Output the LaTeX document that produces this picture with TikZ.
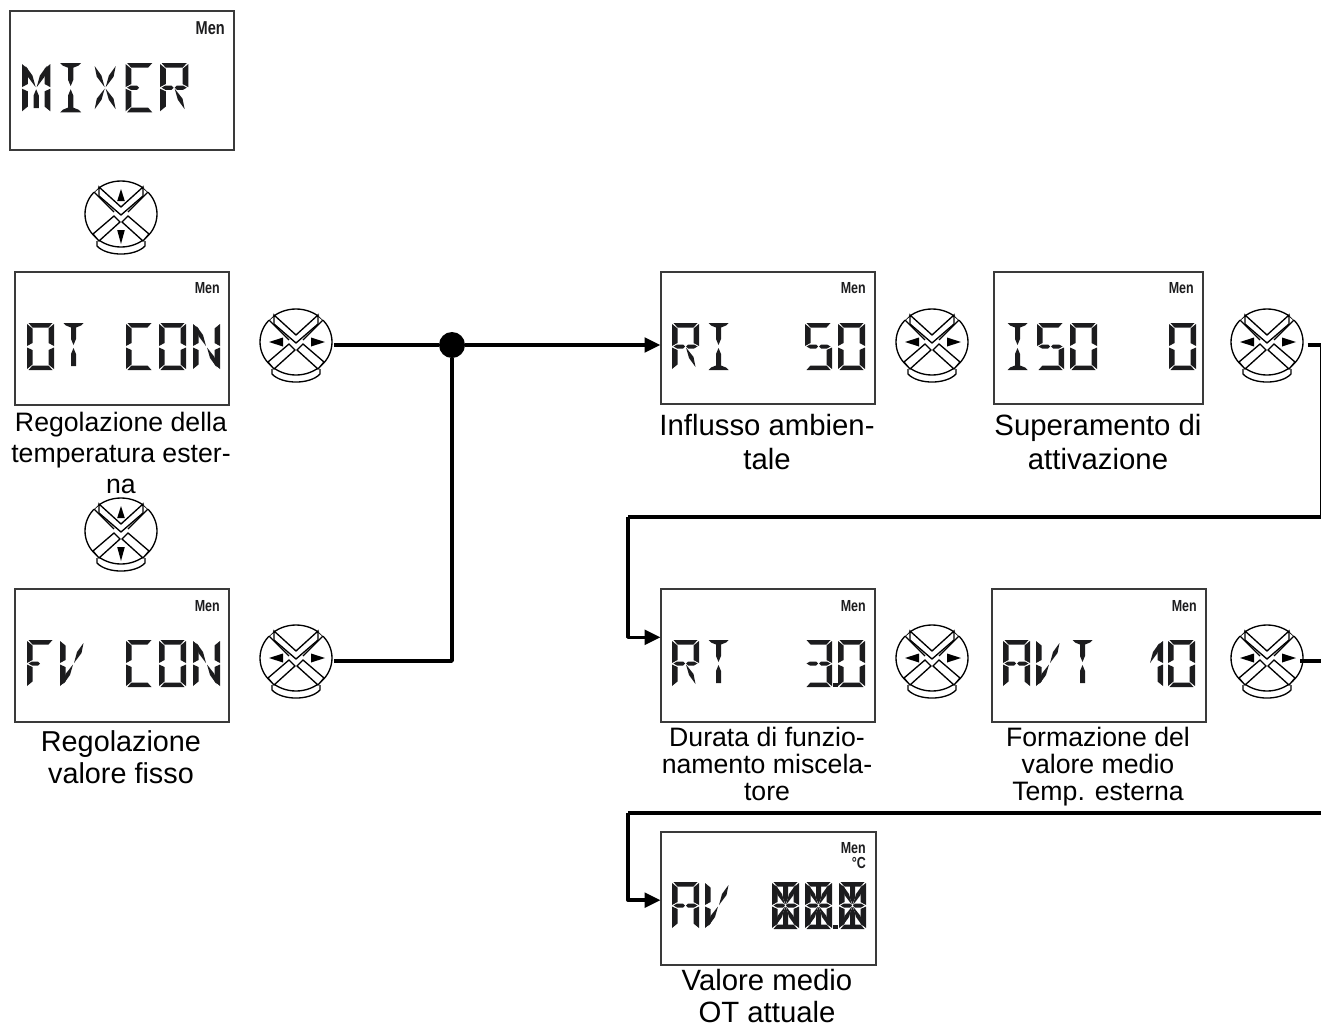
\documentclass[tikz,border=0pt]{standalone}
\usepackage{fontspec}
\setmainfont{Liberation Sans}
\usepackage{xcolor}
\usetikzlibrary{arrows.meta, positioning, calc}
\definecolor{lcdink}{RGB}{28,28,30}
\definecolor{framegray}{RGB}{58,58,58}

% segments of one display cell, 27 wide and 47 high
\tikzset{
  sega/.style={insert path={(1.5,0) -- (25.5,0) -- (21.5,4.5) -- (5.5,4.5) -- cycle}},
  segd/.style={insert path={(1.5,47) -- (25.5,47) -- (21.5,42.5) -- (5.5,42.5) -- cycle}},
  segu/.style={insert path={(3.5,0) -- (23.5,0) -- (21,2.5) -- (16,4.5) -- (11,4.5) -- (6,2.5) -- cycle}},
  segv/.style={insert path={(3.5,47) -- (23.5,47) -- (21,44.5) -- (16,42.5) -- (11,42.5) -- (6,44.5) -- cycle}},
  segf/.style={insert path={(0,1) -- (5.5,5.5) -- (5.5,20) -- (0,23) -- cycle}},
  sege/.style={insert path={(0,24.5) -- (5.5,27) -- (5.5,41.5) -- (0,46) -- cycle}},
  segb/.style={insert path={(27,1) -- (21.5,5.5) -- (21.5,20) -- (27,23) -- cycle}},
  segc/.style={insert path={(27,24.5) -- (21.5,27) -- (21.5,41.5) -- (27,46) -- cycle}},
  segp/.style={insert path={(1.5,23.5) -- (5,21.5) -- (11,21.5) -- (13,23.5) -- (11,25.5) -- (5,25.5) -- cycle}},
  segq/.style={insert path={(25.5,23.5) -- (22,21.5) -- (16,21.5) -- (14,23.5) -- (16,25.5) -- (22,25.5) -- cycle}},
  segi/.style={insert path={(11,4) -- (16,4) -- (16,16) -- (13.5,22) -- (11,16) -- cycle}},
  segl/.style={insert path={(11,43) -- (16,43) -- (16,31) -- (13.5,25) -- (11,31) -- cycle}},
  segh/.style={insert path={(3.5,3) -- (5.5,13) -- (13,23) -- (10,12) -- cycle}},
  segj/.style={insert path={(23.5,3) -- (21.5,13) -- (14,23) -- (17,12) -- cycle}},
  segk/.style={insert path={(3.5,44) -- (5.5,34) -- (13,24.5) -- (10,35) -- cycle}},
  segm/.style={insert path={(23.5,44) -- (21.5,34) -- (14,24.5) -- (17,35) -- cycle}},
  display/.style={draw=framegray, line width=1.5pt, rectangle, inner sep=0pt, outer sep=0pt, anchor=north west},
  menu/.style={font=\bfseries\fontsize{#1}{#1}\selectfont, xscale=0.78, anchor=east, inner sep=0pt, text=lcdink},
  menu/.default=12,
  caption/.style={align=center, inner sep=0pt},
  padnode/.style={circle, minimum size=54pt, inner sep=0pt, outer sep=1.5pt},
  padline/.style={draw=black, line width=1pt},
  wire/.style={draw=black, line width=2.6pt, line join=round},
  arrowwire/.style={wire, -{Triangle[length=12pt,width=11pt]}},
  padbody/.pic={
    \draw[padline] (-24,24) -- (-24,29) .. controls (-14,39.7) and (14,39.7) .. (24,29) -- (24,24);
    \draw[padline, fill=white] (0,-3) ellipse [x radius=36, y radius=33];
    \draw[white, line width=2.2pt] (-28,-26) -- (-24,-30);
    \draw[white, line width=2.2pt] (28,-26) -- (24,-30);
    \draw[padline, fill=white] (-22,-30) -- (0,-10) -- (22,-30) -- (22,-21) -- (0,-2) -- (-22,-21) -- cycle;
    \draw[padline, fill=white] (-28,17) -- (-7,-1) -- (-1,5) -- (-22,24) -- cycle;
    \draw[padline, fill=white] (28,17) -- (7,-1) -- (1,5) -- (22,24) -- cycle;
    \draw[padline] (-27,-25) -- (-7,-5);
    \draw[padline] (27,-25) -- (7,-5);
  },
  padud/.pic={
    \begin{scope}[xscale=1.05, yscale=1.08]
      \pic {padbody};
    \end{scope}
    \fill[black] (0,-28) -- (3.8,-16) -- (-3.8,-16) -- cycle;
    \fill[black] (0,27) -- (3.8,13) -- (-3.8,13) -- cycle;
  },
  padlr/.pic={
    \pic {padbody};
    \fill[black] (-27,-3) -- (-13,-7.5) -- (-13,1.5) -- cycle;
    \fill[black] (29,-3) -- (15,-7.5) -- (15,1.5) -- cycle;
  },
}

% which segments make up each character
\def\glyphO{a,b,c,d,e,f}
\def\glyphT{u,i,l}
\def\glyphC{a,d,e,f}
\def\glyphN{b,c,e,f,h,m}
\def\glyphF{a,e,f,p}
\def\glyphV{e,f,k,j}
\def\glyphR{a,b,e,f,p,q,m}
\def\glyphI{u,v,i,l}
\def\glyphS{a,c,d,f,p,q}
\def\glyphA{a,b,c,e,f,p,q}
\def\glyphM{b,c,e,f,h,j,l}
\def\glyphX{h,j,k,m}
\def\glyphE{a,d,e,f,p}
\expandafter\def\csname glyph1\endcsname{b,c,j}
\expandafter\def\csname glyph3\endcsname{a,b,c,d,p,q}
\expandafter\def\csname glyph8\endcsname{a,b,c,d,e,f,h,i,j,k,l,m,p,q}

\newcommand{\lcdchar}[4][1]{%
  \begin{scope}[shift={(#2,#3)}, xscale=#1, yscale=#1]
    \expandafter\let\expandafter\glyphlist\csname glyph#4\endcsname
    \foreach \s in \glyphlist { \fill[lcdink, seg\s]; }
  \end{scope}}

\begin{document}
\begin{tikzpicture}[x=0.75pt, y=-0.75pt]
  \useasboundingbox (0,0) rectangle (1321,1028);

  % displays
  \node[display, minimum width=168pt, minimum height=104.25pt] (dispmix) at (9.5,10.5) {};
  \node[display, minimum width=160.5pt, minimum height=99.75pt] (dispot) at (14.5,271.5) {};
  \node[display, minimum width=160.5pt, minimum height=99.75pt] (dispfv) at (14.5,588.5) {};
  \node[display, minimum width=160.5pt, minimum height=99.5pt] (dispri) at (660.5,271.5) {};
  \node[display, minimum width=156.75pt, minimum height=99pt] (dispiso) at (993.5,271.5) {};
  \node[display, minimum width=160.5pt, minimum height=100.25pt] (disprt) at (660.5,588.5) {};
  \node[display, minimum width=160.5pt, minimum height=100.25pt] (dispavt) at (991.5,588.5) {};
  \node[display, minimum width=161.25pt, minimum height=100pt] (dispav) at (660.5,831.5) {};

  % menu marks
  \node[menu=14] (menmix) at (225,28) {Men};
  \node[menu] (menot) at (220,288) {Men};
  \node[menu] (menfv) at (220,606) {Men};
  \node[menu] (menri) at (866,288) {Men};
  \node[menu] (meniso) at (1194,288) {Men};
  \node[menu] (menrt) at (866,606) {Men};
  \node[menu] (menavt) at (1197,606) {Men};
  \node[menu] (menav) at (866,848) {Men};
  \node[menu] (degav) at (866,863) {°C};

  % display characters
  \foreach \cx/\ch in {22/M,56.5/I,91/X,125.5/E,160/R} { \lcdchar[1.05]{\cx}{63}{\ch} }
  \foreach \cx/\ch in {27/O,60/T,126/C,159/O,193/N} { \lcdchar{\cx}{323}{\ch} }
  \foreach \cx/\ch in {27/F,60/V,126/C,159/O,193/N} { \lcdchar{\cx}{640}{\ch} }
  \foreach \cx/\ch in {672/R,705/I,805/S,838/O} { \lcdchar{\cx}{323}{\ch} }
  \foreach \cx/\ch in {1004/I,1037/S,1070/O,1169/O} { \lcdchar{\cx}{323}{\ch} }
  \foreach \cx/\ch in {672/R,705/T,805/3,838/O} { \lcdchar{\cx}{640}{\ch} }
  \foreach \cx/\ch in {1003/A,1036/V,1069/T,1136/1,1168/O} { \lcdchar{\cx}{640}{\ch} }
  \foreach \cx/\ch in {672/A,705/V,772/8,805/8,839/8} { \lcdchar{\cx}{882}{\ch} }
  \fill[lcdink] (832.5,683) rectangle (837.5,687);
  \fill[lcdink] (833,925) rectangle (838,929);

  % keypads
  \node[padnode] (padud) at (121,217) {};
  \pic at (padud) {padud};
  \node[padnode] (padudb) at (121,534) {};
  \pic at (padudb) {padud};
  \node[padnode] (padot) at (296,345) {};
  \pic at (padot) {padlr};
  \node[padnode] (padfv) at (296,661) {};
  \pic at (padfv) {padlr};
  \node[padnode] (padri) at (932,345) {};
  \pic at (padri) {padlr};
  \node[padnode] (padiso) at (1267,345) {};
  \pic at (padiso) {padlr};
  \node[padnode] (padrt) at (932,661) {};
  \pic at (padrt) {padlr};
  \node[padnode] (padavt) at (1267,661) {};
  \pic at (padavt) {padlr};

  % captions
  \node[caption, font=\fontsize{20}{23.2}\selectfont] (capot) at (121,453) {Regolazione della\\temperatura ester-\\na};
  \node[caption, font=\fontsize{21.6}{24}\selectfont] (capfv) at (121,757) {Regolazione\\valore fisso};
  \node[caption, font=\fontsize{22}{25.5}\selectfont] (capri) at (767,442) {Influsso ambien-\\tale};
  \node[caption, font=\fontsize{22}{25.5}\selectfont] (capiso) at (1098,442) {Superamento di\\attivazione};
  \node[caption, font=\fontsize{20}{20.25}\selectfont] (caprt) at (767,764) {Durata di funzio-\\namento miscela-\\tore};
  \node[caption, font=\fontsize{20}{20.25}\selectfont] (capavt) at (1098,767) {Formazione del\\valore medio\\Temp. esterna};
  \node[caption, font=\fontsize{22}{23.5}\selectfont] (capav) at (767,996) {Valore medio\\OT attuale};

  % connectors
  \node[circle, fill=black, minimum size=19.5pt, inner sep=0pt] (joint) at (452,345) {};
  \coordinate (edgea) at (1321.8,345);
  \coordinate (edgeb) at (1321.8,517);
  \coordinate (turna) at (628,517);
  \coordinate (edgec) at (1321,661);
  \coordinate (edged) at (1321,813);
  \coordinate (turnb) at (628,813);
  \draw[wire] (padot) -- (joint);
  \draw[wire] (padfv) -| (joint);
  \draw[arrowwire] (joint) -- (joint -| dispri.west);
  \draw[wire] ([xshift=2pt]padiso.east) -- (edgea) -- (edgeb) -- (turna);
  \draw[wire] ([xshift=-3.5pt]padavt.east) -- (edgec);
  \draw[wire] (edged) -- (turnb);
  \draw[arrowwire] (turna) |- ([yshift=13.5pt]disprt.west);
  \draw[arrowwire] (turnb) |- ([yshift=-1.5pt]dispav.west);
\end{tikzpicture}
\end{document}
